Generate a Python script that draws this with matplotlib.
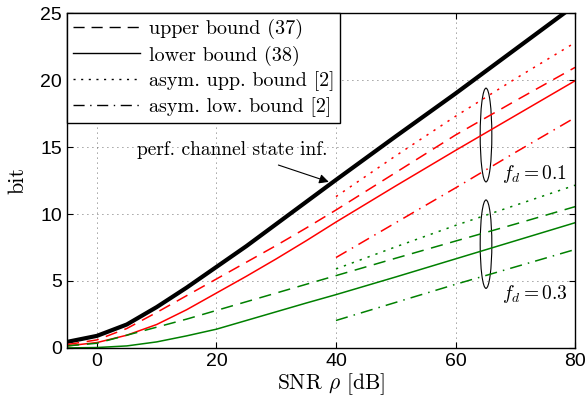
import numpy as np
import matplotlib
matplotlib.use("Agg")
import matplotlib.pyplot as plt
from matplotlib.patches import Ellipse

# SNR grid in dB
snr = [-5, 0, 5, 10, 15, 20, 25, 30, 35, 40, 50, 60, 70, 80]
snr_hi = [40, 50, 60, 70, 80]

# perfect CSI
perf_csi = [0.45, 0.9, 1.75, 3.05, 4.5, 6.05, 7.6, 9.25, 10.9, 12.55, 15.8, 19.0, 22.3, 25.6]

# f_d = 0.1 (red)
upper_01 = [0.25, 0.6, 1.45, 2.65, 3.9, 5.15, 6.4, 7.65, 8.95, 10.3, 13.1, 15.9, 18.45, 20.95]
lower_01 = [0.15, 0.4, 0.95, 1.75, 2.85, 4.1, 5.35, 6.65, 8.0, 9.4, 12.1, 14.75, 17.35, 19.95]
asym_upp_01 = [11.3, 14.35, 17.3, 20.1, 22.8]
asym_low_01 = [6.75, 9.35, 11.95, 14.6, 17.2]

# f_d = 0.3 (green)
upper_03 = [0.15, 0.35, 0.95, 1.55, 2.15, 2.8, 3.45, 4.1, 4.75, 5.4, 6.7, 7.98, 9.25, 10.55]
lower_03 = [0.0, 0.03, 0.15, 0.45, 0.9, 1.4, 2.05, 2.7, 3.35, 3.98, 5.3, 6.65, 8.0, 9.35]
asym_upp_03 = [5.9, 7.55, 9.15, 10.65, 12.15]
asym_low_03 = [2.05, 3.4, 4.75, 6.05, 7.35]

xticks = [0, 20, 40, 60, 80]
yticks = [0, 5, 10, 15, 20, 25]

plt.rcParams['mathtext.fontset'] = 'cm'
serif = 'cmr10'
tickfont = 'Liberation Sans'

dash = (0, (8, 5))
dot = (0, (1.5, 4))
dashdot = (0, (8, 4, 1, 4))
red = '#ff0000'
green = '#008000'
lw = 1.1

fig = plt.figure(figsize=(5.88, 3.99), dpi=100)
ax = fig.add_axes([0.114, 0.128, 0.864, 0.839])

ax.plot(snr, perf_csi, color='k', lw=3.0)
ax.plot(snr, upper_01, color=red, lw=lw, ls=dash)
ax.plot(snr, lower_01, color=red, lw=lw, ls='-')
ax.plot(snr_hi, asym_upp_01, color=red, lw=lw, ls=dot)
ax.plot(snr_hi, asym_low_01, color=red, lw=lw, ls=dashdot)
ax.plot(snr, upper_03, color=green, lw=lw, ls=dash)
ax.plot(snr, lower_03, color=green, lw=lw, ls='-')
ax.plot(snr_hi, asym_upp_03, color=green, lw=lw, ls=dot)
ax.plot(snr_hi, asym_low_03, color=green, lw=lw, ls=dashdot)

# legend entries in black
h1, = ax.plot([], [], color='k', lw=1.0, ls=dash)
h2, = ax.plot([], [], color='k', lw=1.0, ls='-')
h3, = ax.plot([], [], color='k', lw=1.0, ls=dot)
h4, = ax.plot([], [], color='k', lw=1.0, ls=dashdot)
leg = ax.legend([h1, h2, h3, h4],
                ['upper bound (37)', 'lower bound (38)',
                 'asym. upp. bound [2]', 'asym. low. bound [2]'],
                loc='upper left', borderaxespad=0, fancybox=False,
                framealpha=1, edgecolor='k', handlelength=3.3,
                handletextpad=0.45, labelspacing=0.3, borderpad=0.3,
                prop={'family': serif, 'size': 14.5})
leg.get_frame().set_linewidth(1.0)

ax.set_xlim(-5, 80)
ax.set_ylim(0, 25)
ax.set_xticks(xticks)
ax.set_yticks(yticks)
ax.grid(True, color='0.25', ls=(0, (1, 5)), lw=0.6)
ax.tick_params(direction='in', top=True, right=True, length=4, labelsize=14)
for lab in ax.get_xticklabels() + ax.get_yticklabels():
    lab.set_family(tickfont)
for sp in ax.spines.values():
    sp.set_linewidth(1.0)

ax.set_xlabel(r'SNR $\rho$ [dB]', family=serif, size=15.5)
ax.set_ylabel('bit', family=serif, size=16, labelpad=9)
ax.xaxis.set_label_coords(0.52, -0.07)

ax.annotate('perf. channel state inf.', xy=(38.8, 12.4), xytext=(22.7, 14.8),
            ha='center', va='center', family=serif, size=14,
            arrowprops=dict(arrowstyle='-|>', color='k', lw=0.8,
                            shrinkA=8, shrinkB=0, mutation_scale=14))

ax.add_patch(Ellipse((65.1, 15.9), 1.95, 7.0, fill=False, color='k', lw=0.8))
ax.add_patch(Ellipse((65.1, 7.75), 1.95, 6.6, fill=False, color='k', lw=0.8))
ax.text(67.7, 13.0, r'$f_d = 0.1$', size=14, va='center', ha='left')
ax.text(67.7, 4.0, r'$f_d = 0.3$', size=14, va='center', ha='left')

fig.savefig('out.png', dpi=100)
